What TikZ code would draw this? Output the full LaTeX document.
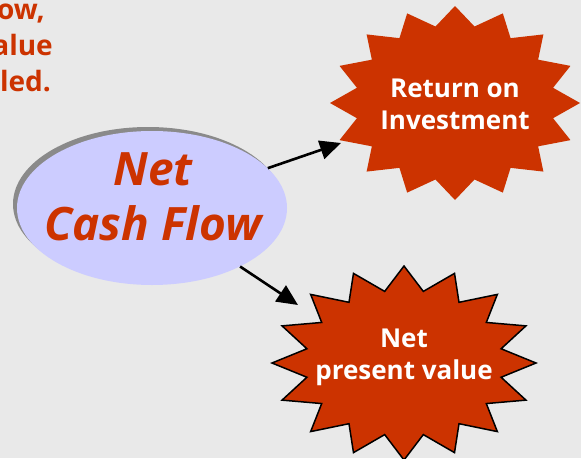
\documentclass[tikz,border=0pt]{standalone}
\usepackage{fontspec}
\setmainfont{Open Sans}
\newfontfamily\osb{Open Sans}
\usetikzlibrary{arrows.meta,shapes.geometric,calc}
\definecolor{rust}{HTML}{CC3300}
\definecolor{lav}{HTML}{CCCCFF}
\definecolor{bgc}{HTML}{E9E9E9}
\definecolor{shd}{HTML}{8A8A8A}
\begin{document}
\begin{tikzpicture}[x=1pt,y=-1pt,
  conn/.style={line width=2.6pt,-{Triangle[length=21pt,width=19pt]}},
  startxt/.style={font=\osb\bfseries\fontsize{26}{32}\selectfont,text=white,align=center,inner sep=0pt},
  frag/.style={font=\osb\bfseries\fontsize{28}{32}\selectfont,text=rust,anchor=base east,inner sep=0pt}]
\fill[bgc] (0,0) rectangle (581,458);
\useasboundingbox (0,0) rectangle (581,458);
\clip (0,0) rectangle (581,458);

% top-left clipped text
\node[frag] (f1) at (45,19) {ow,};
\node[frag] (f2) at (53,55) {alue};
\node[frag] (f3) at (51,91) {led.};

% ellipse with shadow
\fill[shd] (148,204) ellipse [x radius=135, y radius=77];
\node[ellipse,fill=lav,minimum width=270pt,minimum height=154pt,inner sep=0pt] (cf) at (152,208) {};
\node[font=\osb\bfseries\itshape\fontsize{46}{55}\selectfont,text=rust,align=center,inner sep=0pt] (cft) at (153,197) {Net\\Cash Flow};

% top star
\begin{scope}[shift={(455,103)}]
\fill[rust] (125,0) \foreach \i [evaluate=\i as \rx using {125-25*mod(\i,2)}, evaluate=\i as \ry using {97-19*mod(\i,2)}] in {1,...,31} { -- ({cos(\i*11.25)*\rx},{sin(\i*11.25)*\ry}) } -- cycle;
\end{scope}
\node[startxt] (roi) at (455,104) {Return on\\Investment};

% bottom star
\begin{scope}[shift={(404,363)}]
\filldraw[fill=rust,draw=black,line width=1.5pt] (132,0) \foreach \i [evaluate=\i as \rx using {132-33*mod(\i,2)}, evaluate=\i as \ry using {97-24*mod(\i,2)}] in {1,...,31} { -- ({cos(\i*11.25)*\rx},{sin(\i*11.25)*\ry}) } -- cycle;
\end{scope}
\node[startxt] (npv) at (404,357) {Net\\present value};

% connectors
\coordinate (roitip) at (341,143);
\coordinate (npvtip) at (298,305);
\draw[conn] (cf) -- (roitip);
\draw[conn] (cf) -- (npvtip);
\end{tikzpicture}
\end{document}
